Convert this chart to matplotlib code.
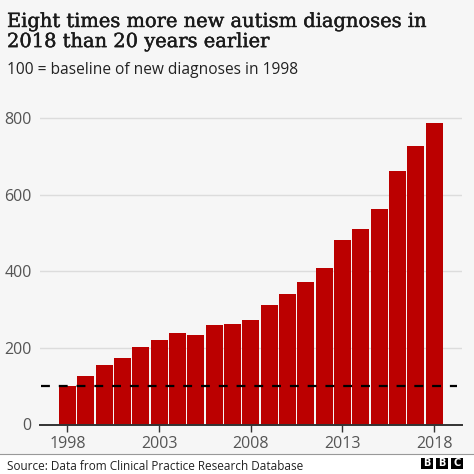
import matplotlib.pyplot as plt
import matplotlib.patheffects as pe
from matplotlib.patches import Rectangle

years = list(range(1998, 2019))
index_values = [100, 126, 154, 173, 203, 220, 239, 234, 260, 262, 273,
                313, 340, 373, 409, 482, 510, 561, 662, 726, 786]
tick_years = [1998, 2003, 2008, 2013, 2018]
y_ticks = [0, 200, 400, 600, 800]
baseline = 100

title = "Eight times more new autism diagnoses in\n2018 than 20 years earlier"
subtitle = "100 = baseline of new diagnoses in 1998"
source = "Source: Data from Clinical Practice Research Database"

bg = "#f6f6f6"
red = "#bb0000"
grey_text = "#555555"

fig = plt.figure(figsize=(4.74, 4.74), dpi=100, facecolor=bg)

# white footer strip
fig.patches.append(Rectangle((0, 0), 1, 20 / 474, transform=fig.transFigure,
                             facecolor="white", edgecolor="none", zorder=0))
fig.lines.append(plt.Line2D([0, 1], [20 / 474, 20 / 474], transform=fig.transFigure,
                            color="#999999", lw=0.8))

ax = fig.add_axes([40 / 474, 49.5 / 474, 422 / 474, 325.8 / 474])
ax.set_facecolor(bg)
ax.bar(years, index_values, width=0.93, color=red, zorder=2)
ax.plot([1996.55, 2019.25], [baseline, baseline], color="black", lw=1.6,
        ls=(0, (4, 4)), zorder=3)

ax.set_xlim(1996.5, 2019.52)
ax.set_ylim(0, 850)
ax.set_yticks(y_ticks)
ax.set_xticks(tick_years)
ax.grid(axis="y", color="#dcdcdc", lw=1, zorder=0)
for s in ["top", "right", "left"]:
    ax.spines[s].set_visible(False)
ax.spines["bottom"].set_color("#333333")
ax.spines["bottom"].set_linewidth(1.4)
ax.spines["bottom"].set_zorder(4)
ax.tick_params(axis="y", length=0, pad=6, labelsize=11.5, labelcolor=grey_text)
ax.tick_params(axis="x", length=5, width=1, color="#333333", pad=3,
               labelsize=11.5, labelcolor=grey_text)
for lab in ax.get_xticklabels() + ax.get_yticklabels():
    lab.set_family("Open Sans")

fig.text(7 / 474, 1 - 13 / 474, title, family="DejaVu Serif", fontsize=14,
         va="top", ha="left", color="#1a1a1a", linespacing=1.15,
         path_effects=[pe.withStroke(linewidth=0.3, foreground="#1a1a1a")])
fig.text(7 / 474, 1 - 74 / 474, subtitle, family="Open Sans", fontsize=11.2,
         va="baseline", ha="left", color="#222222")
fig.text(7 / 474, 4 / 474, source, family="Open Sans", fontsize=8.5,
         va="baseline", ha="left", color="#222222")

# BBC blocks
for i, letter in enumerate("BBC"):
    x0 = (421 + i * 15) / 474
    fig.patches.append(Rectangle((x0, 5 / 474), 12 / 474, 11 / 474,
                                 transform=fig.transFigure, facecolor="black",
                                 edgecolor="none"))
    fig.text(x0 + 6 / 474, 10.5 / 474, letter, color="white", fontsize=7,
             fontweight="bold", ha="center", va="center", family="DejaVu Sans")

fig.savefig("out.png", dpi=100, facecolor=bg)
